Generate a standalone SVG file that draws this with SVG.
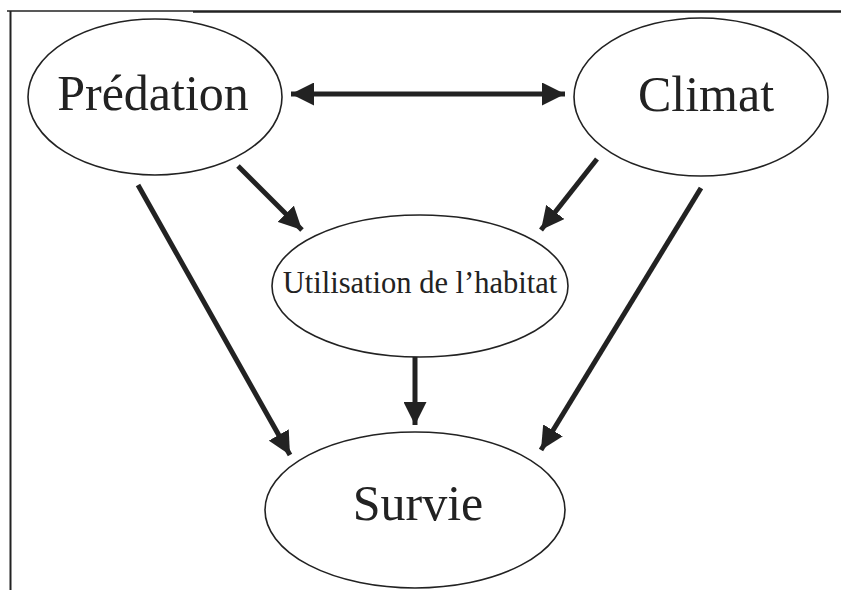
<svg xmlns="http://www.w3.org/2000/svg" width="841" height="591" viewBox="0 0 841 591">
<style>
.node{fill:#fff;stroke:#222;stroke-width:1.6}
.lbl{font-family:"Liberation Serif","Times New Roman",serif;fill:#222;text-anchor:middle}
.big{font-size:50px}
.small{font-size:30.5px}
.conn{stroke:#222;stroke-width:5;fill:none}
.frame{stroke:#222;fill:none}
</style>
<defs>
<marker id="ah" markerUnits="userSpaceOnUse" markerWidth="23" markerHeight="23" viewBox="0 0 23 23" refX="23" refY="11.5" orient="auto-start-reverse">
<path d="M0,0 L23,11.5 L0,23 z" fill="#222"/>
</marker>
</defs>
<rect width="841" height="591" fill="#fff"/>
<g id="frame">
<line class="frame" x1="7" y1="11" x2="193" y2="11" stroke-width="1.6"/>
<line class="frame" x1="193" y1="11.5" x2="841" y2="11.5" stroke-width="2.6"/>
<line class="frame" x1="10.5" y1="11" x2="10.5" y2="590" stroke-width="2"/>
</g>
<g id="connectors">
<line class="conn" x1="291" y1="94" x2="565" y2="94" marker-start="url(#ah)" marker-end="url(#ah)"/>
<line class="conn" x1="238" y1="166" x2="302" y2="230" marker-end="url(#ah)"/>
<line class="conn" x1="597" y1="159" x2="541" y2="230" marker-end="url(#ah)"/>
<line class="conn" x1="138" y1="185" x2="290" y2="455" marker-end="url(#ah)"/>
<line class="conn" x1="701" y1="188" x2="541" y2="450" marker-end="url(#ah)"/>
<line class="conn" x1="415" y1="347" x2="415" y2="425" marker-end="url(#ah)"/>
</g>
<g id="predation">
<ellipse class="node" cx="155" cy="97" rx="127" ry="78"/>
<text class="lbl big" x="153" y="110">Prédation</text>
</g>
<g id="climat">
<ellipse class="node" cx="701" cy="97" rx="127" ry="79"/>
<text class="lbl big" x="706" y="111">Climat</text>
</g>
<g id="utilisation">
<ellipse class="node" cx="420" cy="286" rx="148" ry="71"/>
<text class="lbl small" x="420" y="293">Utilisation de l’habitat</text>
</g>
<g id="survie">
<ellipse class="node" cx="415" cy="510" rx="150" ry="78"/>
<text class="lbl big" x="418" y="520">Survie</text>
</g>
</svg>
